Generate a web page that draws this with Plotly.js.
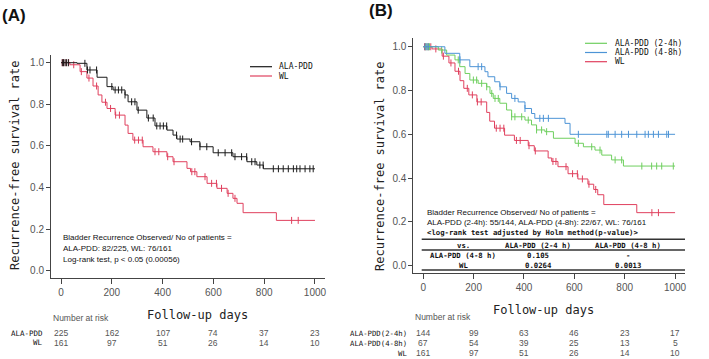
<!DOCTYPE html>
<html><head><meta charset="utf-8">
<script src="https://cdn.plot.ly/plotly-3.0.1.min.js"></script>
<style>html,body{margin:0;padding:0;background:#fff}#chart{width:709px;height:359px}</style>
</head><body><div id="chart"></div><script>
// ---------- Panel A data ----------
const alaTime = [0, 63, 102, 142, 181, 205, 252, 264, 299, 338, 370, 417, 441, 456, 508, 547, 599, 677, 732, 771, 797, 1000];
const alaSurv = [1.0, 0.997, 0.965, 0.93, 0.885, 0.869, 0.845, 0.812, 0.772, 0.734, 0.696, 0.676, 0.652, 0.633, 0.62, 0.596, 0.567, 0.548, 0.524, 0.508, 0.49, 0.49];
const alaCens = [5, 10, 16, 22, 29, 94, 104, 114, 140, 200, 213, 226, 239, 252, 278, 291, 304, 344, 363, 377, 390, 403, 416, 455, 469, 479, 514, 547, 574, 619, 646, 672, 685, 711, 731, 751, 764, 783, 796, 836, 856, 875, 895, 915, 928, 941, 961, 980, 993];
const wlTime = [0, 35, 75, 102, 126, 146, 161, 181, 213, 252, 264, 283, 323, 362, 417, 441, 496, 510, 535, 575, 614, 654, 677, 693, 717, 848, 1000];
const wlSurv = [1.0, 0.99, 0.957, 0.926, 0.888, 0.845, 0.81, 0.78, 0.748, 0.70, 0.66, 0.628, 0.596, 0.572, 0.548, 0.524, 0.492, 0.476, 0.452, 0.42, 0.396, 0.372, 0.348, 0.324, 0.279, 0.242, 0.242];
const wlCens = [5, 10, 20, 30, 50, 80, 110, 140, 175, 195, 215, 230, 290, 305, 320, 370, 385, 420, 445, 515, 527, 567, 593, 612, 632, 658, 685, 908, 934];
const seriesA = ["ALA-PDD", "WL"];
const riskA = {"ALA-PDD": [225, 162, 107, 74, 37, 23], "WL": [161, 97, 51, 26, 14, 10]};

// ---------- Panel B data ----------
const g24Time = [0, 60, 93, 126, 145, 166, 185, 218, 252, 265, 278, 304, 331, 351, 404, 430, 450, 483, 517, 603, 636, 682, 709, 748, 795, 1000];
const g24Surv = [1.0, 0.985, 0.962, 0.94, 0.909, 0.878, 0.848, 0.833, 0.817, 0.787, 0.764, 0.742, 0.711, 0.68, 0.665, 0.643, 0.62, 0.612, 0.582, 0.559, 0.543, 0.528, 0.505, 0.483, 0.455, 0.455];
const g24Cens = [10, 18, 25, 73, 139, 199, 212, 232, 252, 272, 285, 298, 351, 364, 391, 417, 450, 470, 490, 616, 669, 702, 762, 788, 868, 907, 927, 947, 993];
const g48Time = [0, 86, 145, 185, 245, 257, 284, 304, 331, 351, 377, 404, 430, 443, 563, 583, 1000];
const g48Surv = [1.0, 0.97, 0.94, 0.909, 0.886, 0.863, 0.84, 0.817, 0.787, 0.764, 0.748, 0.718, 0.695, 0.673, 0.65, 0.60, 0.60];
const g48Cens = [7, 14, 20, 146, 218, 232, 305, 364, 404, 463, 477, 497, 616, 729, 735, 762, 788, 815, 848, 881, 894, 914, 934, 967, 974];
const seriesB = ["ALA-PDD (2-4h)", "ALA-PDD (4-8h)", "WL"];
const riskLabelsB = ["ALA-PDD(2-4h)", "ALA-PDD(4-8h)", "WL"];
const riskB = [[144, 99, 63, 46, 23, 17], [67, 54, 39, 25, 13, 5], [161, 97, 51, 26, 14, 10]];

const xTicks = [0, 200, 400, 600, 800, 1000];
const yTicks = [0, 0.2, 0.4, 0.6, 0.8, 1.0];
const tableHeader = ["vs.", "ALA-PDD (2-4 h)", "ALA-PDD (4-8 h)"];
const tableRows = [["ALA-PDD (4-8 h)", "0.105", "-"], ["WL", "0.0264", "0.0013"]];

// ---------- styles ----------
const cBlack = "#1a1a1a", cRed = "#e0405e", cGreen = "#6fcf5f", cBlue = "#4d94d6";
const W = 709, H = 359;
const px = x => x / W, py = y => 1 - y / H;
const mono = "DejaVu Sans Mono, monospace";
const sans = "Liberation Sans, Arial, sans-serif";

function stepAt(t, s, x) { let v = s[0]; for (let i = 0; i < t.length; i++) if (t[i] <= x) v = s[i]; return v; }
function curve(t, s, color, xa, ya) {
  return {x: t, y: s, type: "scatter", mode: "lines", line: {shape: "hv", color: color, width: 1}, xaxis: xa, yaxis: ya, hoverinfo: "skip", showlegend: false};
}
function cens(ct, t, s, color, xa, ya) {
  return {x: ct, y: ct.map(v => stepAt(t, s, v)), type: "scatter", mode: "markers",
    marker: {symbol: "line-ns-open", size: 5, color: color, line: {color: color, width: 1}}, xaxis: xa, yaxis: ya, hoverinfo: "skip", showlegend: false};
}

const traces = [
  curve(wlTime, wlSurv, cRed, "x", "y"), cens(wlCens, wlTime, wlSurv, cRed, "x", "y"),
  curve(alaTime, alaSurv, cBlack, "x", "y"), cens(alaCens, alaTime, alaSurv, cBlack, "x", "y"),
  curve(wlTime, wlSurv, cRed, "x2", "y2"), cens(wlCens, wlTime, wlSurv, cRed, "x2", "y2"),
  curve(g24Time, g24Surv, cGreen, "x2", "y2"), cens(g24Cens, g24Time, g24Surv, cGreen, "x2", "y2"),
  curve(g48Time, g48Surv, cBlue, "x2", "y2"), cens(g48Cens, g48Time, g48Surv, cBlue, "x2", "y2")
];

function xax(domain, anchor) {
  return {domain: domain, range: [-39.5, 1039.5], anchor: anchor, showline: true, linecolor: "#444", linewidth: 1,
    ticks: "outside", ticklen: 5, tickcolor: "#444", tickvals: xTicks, ticktext: xTicks.map(String),
    showgrid: false, zeroline: false, tickfont: {family: sans, size: 10, color: "#555"}};
}
function yax(domain, range, anchor) {
  return {domain: domain, range: range, anchor: anchor, showline: true, linecolor: "#444", linewidth: 1,
    ticks: "outside", ticklen: 4, tickcolor: "#444", tickvals: yTicks, ticktext: yTicks.map(v => v.toFixed(1)),
    showgrid: false, zeroline: false, tickfont: {family: sans, size: 10, color: "#555"}};
}

const ann = [];
const shapes = [];
function txt(x, y, text, opt) {
  ann.push(Object.assign({xref: "paper", yref: "paper", x: px(x), y: py(y), text: text, showarrow: false,
    xanchor: "left", yanchor: "middle", font: {family: sans, size: 8, color: "#111"}}, opt || {}));
}
// panel labels
txt(0, 16, "(A)", {font: {family: sans, size: 17, color: "#111", weight: "bold"}});
txt(367, 11, "(B)", {font: {family: sans, size: 17, color: "#111", weight: "bold"}});
// axis titles
txt(15, 165, "Recurrence-free survival rate", {xanchor: "center", textangle: -90, font: {family: mono, size: 12, color: "#222"}});
txt(380, 166, "Recurrence-free survival rate", {xanchor: "center", textangle: -90, font: {family: mono, size: 12, color: "#222"}});
txt(197, 315, "Follow-up days", {xanchor: "center", font: {family: mono, size: 12, color: "#222"}});
txt(543, 310, "Follow-up days", {xanchor: "center", font: {family: mono, size: 12, color: "#222"}});
// Panel A in-plot text
txt(61, 237, "Bladder Recurrence Observed/ No of patients =", {font: {family: sans, size: 8, color: "#111"}});
txt(61, 248, "ALA-PDD: 82/225, WL: 76/161", {font: {family: sans, size: 8, color: "#111"}});
txt(61, 259, "Log-rank test, p &lt; 0.05 (0.00056)", {font: {family: sans, size: 8, color: "#111"}});
// Panel A legend
[cBlack, cRed].forEach((c, i) => {
  const y = 66.7 + i * 9.3;
  shapes.push({type: "line", xref: "paper", yref: "paper", x0: px(250), x1: px(272), y0: py(y), y1: py(y), line: {color: c, width: 1.2}});
  txt(277, y, seriesA[i], {font: {family: mono, size: 8, color: "#111"}});
});
// Panel B legend
[cGreen, cBlue, cRed].forEach((c, i) => {
  const y = 43.3 + i * 9.2;
  shapes.push({type: "line", xref: "paper", yref: "paper", x0: px(585), x1: px(607), y0: py(y), y1: py(y), line: {color: c, width: 1.2}});
  txt(613, y, seriesB[i], {font: {family: mono, size: 8, color: "#111"}});
});
// Number at risk A
txt(51, 318, "Number at risk", {font: {family: sans, size: 8.5, color: "#555"}});
seriesA.forEach((name, i) => {
  const y = 333 + i * 9.6;
  txt(45, y, name, {xanchor: "right", font: {family: mono, size: 7.5, color: "#111"}});
  riskA[name].forEach((v, j) => ann.push({xref: "x", yref: "paper", x: xTicks[j], y: py(y), text: String(v), showarrow: false,
    xanchor: "center", yanchor: "middle", font: {family: sans, size: 8.5, color: "#555"}}));
});
// Number at risk B
txt(413, 317, "Number at risk", {font: {family: sans, size: 8.5, color: "#555"}});
riskLabelsB.forEach((name, i) => {
  const y = 333.3 + i * 10;
  txt(409, y, name, {xanchor: "right", font: {family: mono, size: 7.3, color: "#111"}});
  riskB[i].forEach((v, j) => ann.push({xref: "x2", yref: "paper", x: xTicks[j], y: py(y), text: String(v), showarrow: false,
    xanchor: "center", yanchor: "middle", font: {family: sans, size: 8.5, color: "#555"}}));
});
// Panel B in-plot text and table
txt(425, 212.7, "Bladder Recurrence Observed/ No of patients =", {font: {family: sans, size: 8, color: "#111"}});
txt(425, 222.7, "ALA-PDD (2-4h): 55/144, ALA-PDD (4-8h): 22/67, WL: 76/161", {font: {family: sans, size: 8, color: "#111"}});
txt(425, 232.7, "&lt;log-rank test adjusted by Holm method(p-value)&gt;", {font: {family: mono, size: 7.3, color: "#111", weight: "bold"}});
[239.3, 250, 270].forEach(y => shapes.push({type: "line", xref: "paper", yref: "paper", x0: px(421.7), x1: px(685), y0: py(y), y1: py(y), line: {color: "#333", width: 1.5}}));
const colX = [463, 538.3, 628.3];
tableHeader.forEach((h, j) => txt(colX[j], 245, h, {xanchor: "center", font: {family: mono, size: 7.3, color: "#111", weight: "bold"}}));
tableRows.forEach((row, i) => row.forEach((c, j) => txt(colX[j], 255 + i * 10.5, c, {xanchor: "center", font: {family: mono, size: 7.3, color: "#111", weight: "bold"}})));

const layout = {
  width: W, height: H, margin: {l: 0, r: 0, t: 0, b: 0}, paper_bgcolor: "#fff", plot_bgcolor: "#fff", showlegend: false,
  xaxis: xax([51 / W, 325 / W], "y"),
  yaxis: yax([1 - 278 / H, 1 - 55 / H], [-0.035, 1.037], "x"),
  xaxis2: xax([413.3 / W, 685 / W], "y2"),
  yaxis2: yax([1 - 273.3 / H, 1 - 38 / H], [-0.035, 1.04], "x2"),
  annotations: ann, shapes: shapes
};
Plotly.newPlot("chart", traces, layout, {staticPlot: true, displayModeBar: false});
</script></body></html>
